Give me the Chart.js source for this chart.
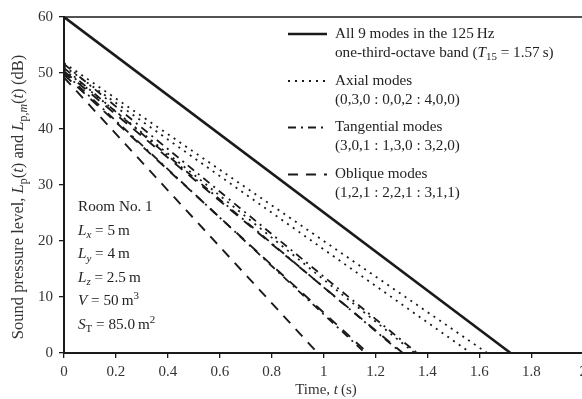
<!DOCTYPE html>
<html>
<head>
<meta charset="utf-8">
<script src="https://cdn.jsdelivr.net/npm/chart.js@4/dist/chart.umd.min.js"></script>
<style>
html,body{margin:0;padding:0;background:#fff;overflow:hidden;}
#wrap{width:582px;height:399px;overflow:hidden;position:relative;}
canvas{position:absolute;left:0;top:0;}
</style>
</head>
<body>
<div id="wrap"><canvas id="c" width="592" height="399"></canvas></div>
<script>
// ---- data ----
const xTicks = [0, 0.2, 0.4, 0.6, 0.8, 1, 1.2, 1.4, 1.6, 1.8, 2];
const yTicks = [0, 10, 20, 30, 40, 50, 60];
// level at t = 0 (dB) and time at which the line reaches 0 dB (s)
const allStart = [60.0];
const allEnd = [1.72];
const axialStart = [51.8, 51.2, 50.6];
const axialEnd = [1.63, 1.567, 1.35];
const tangStart = [51.6, 50.9, 50.1];
const tangEnd = [1.36, 1.30, 1.16];
const obliqueStart = [50.3, 49.7, 49.2];
const obliqueEnd = [1.305, 1.17, 0.977];

const FONT = '"Liberation Serif", "Times New Roman", serif';
const INK = '#1a1a1a';
const TXT = '#333';

const styles = {
  all: {w: 2.6, dash: []},
  axial: {w: 1.8, dash: [2, 5]},
  tang: {w: 1.8, dash: [8, 5, 2, 5]},
  oblique: {w: 1.9, dash: [10, 8]}
};

function lineSet(starts, ends, st) {
  return starts.map((s, i) => ({
    data: [{x: 0, y: s}, {x: ends[i], y: 0}],
    borderColor: INK, borderWidth: st.w, borderDash: st.dash,
    pointRadius: 0, fill: false, tension: 0
  }));
}
const datasets = [].concat(
  lineSet(obliqueStart, obliqueEnd, styles.oblique),
  lineSet(tangStart, tangEnd, styles.tang),
  lineSet(axialStart, axialEnd, styles.axial),
  lineSet(allStart, allEnd, styles.all)
);

// rich text: segments {t, i:italic, sub, sup}
function richWidth(ctx, segs, size) {
  let w = 0;
  for (const s of segs) {
    const sz = (s.sub || s.sup) ? size * 0.72 : size;
    ctx.font = (s.i ? 'italic ' : '') + sz + 'px ' + FONT;
    w += ctx.measureText(s.t).width;
  }
  return w;
}
function drawRich(ctx, x, y, segs, size) {
  ctx.textBaseline = 'middle';
  ctx.textAlign = 'left';
  for (const s of segs) {
    const sz = (s.sub || s.sup) ? size * 0.72 : size;
    ctx.font = (s.i ? 'italic ' : '') + sz + 'px ' + FONT;
    let dy = 0;
    if (s.sub) dy = size * 0.3;
    if (s.sup) dy = -size * 0.35;
    ctx.fillText(s.t, x, y + dy);
    x += ctx.measureText(s.t).width;
  }
  return x;
}

const legendItems = [
  {st: styles.all, y: 34, lines: [
    [{t: 'All 9 modes in the 125\u2009Hz'}],
    [{t: 'one-third-octave band ('}, {t: 'T', i: true}, {t: '15', sub: true}, {t: ' = 1.57\u2009s)'}]
  ]},
  {st: styles.axial, y: 81, lines: [
    [{t: 'Axial modes'}],
    [{t: '(0,3,0 : 0,0,2 : 4,0,0)'}]
  ]},
  {st: styles.tang, y: 127.5, lines: [
    [{t: 'Tangential modes'}],
    [{t: '(3,0,1 : 1,3,0 : 3,2,0)'}]
  ]},
  {st: styles.oblique, y: 174.5, lines: [
    [{t: 'Oblique modes'}],
    [{t: '(1,2,1 : 2,2,1 : 3,1,1)'}]
  ]}
];

const roomInfo = [
  [{t: 'Room No. 1'}],
  [{t: 'L', i: true}, {t: 'x', i: true, sub: true}, {t: ' = 5\u2009m'}],
  [{t: 'L', i: true}, {t: 'y', i: true, sub: true}, {t: ' = 4\u2009m'}],
  [{t: 'L', i: true}, {t: 'z', i: true, sub: true}, {t: ' = 2.5\u2009m'}],
  [{t: 'V', i: true}, {t: ' = 50\u2009m'}, {t: '3', sup: true}],
  [{t: 'S', i: true}, {t: 'T', sub: true}, {t: ' = 85.0\u2009m'}, {t: '2', sup: true}]
];

const yTitle = [
  {t: 'Sound pressure level, '}, {t: 'L', i: true}, {t: 'p', sub: true}, {t: '('}, {t: 't', i: true},
  {t: ') and '}, {t: 'L', i: true}, {t: 'p,', sub: true}, {t: 'm', i: true, sub: true}, {t: '('},
  {t: 't', i: true}, {t: ')\u2009(dB)'}
];
const xTitle = [{t: 'Time, '}, {t: 't', i: true}, {t: '\u2009(s)'}];

const decor = {
  id: 'decor',
  afterDraw(chart) {
    const ctx = chart.ctx;
    const a = chart.chartArea;
    ctx.save();
    // top frame line
    ctx.strokeStyle = INK;
    ctx.lineWidth = 1.6;
    ctx.beginPath();
    ctx.moveTo(a.left, a.top);
    ctx.lineTo(a.right + 10, a.top);
    ctx.stroke();

    ctx.fillStyle = '#222';
    // legend
    for (const it of legendItems) {
      ctx.strokeStyle = INK;
      ctx.lineWidth = it.st.w;
      ctx.setLineDash(it.st.dash);
      ctx.beginPath();
      ctx.moveTo(288, it.y);
      ctx.lineTo(327, it.y);
      ctx.stroke();
      ctx.setLineDash([]);
      drawRich(ctx, 335, it.y, it.lines[0], 15.2);
      drawRich(ctx, 335, it.y + 19, it.lines[1], 15.2);
    }
    // room info
    roomInfo.forEach((l, i) => drawRich(ctx, 78, 207 + i * 23.6, l, 15.2));

    // axis titles
    ctx.fillStyle = TXT;
    const xw = richWidth(ctx, xTitle, 15);
    drawRich(ctx, 326 - xw / 2, 390, xTitle, 15);
    ctx.save();
    ctx.translate(19, 197);
    ctx.rotate(-Math.PI / 2);
    const yw = richWidth(ctx, yTitle, 16.5);
    drawRich(ctx, -yw / 2, 0, yTitle, 16.5);
    ctx.restore();
    ctx.restore();
  }
};

new Chart(document.getElementById('c'), {
  type: 'line',
  data: {datasets},
  options: {
    responsive: false,
    devicePixelRatio: 1,
    animation: false,
    events: [],
    layout: {padding: {left: 10, top: 17, right: 0, bottom: 0}},
    plugins: {legend: {display: false}, tooltip: {enabled: false}},
    scales: {
      x: {
        type: 'linear', min: 0, max: 2,
        afterBuildTicks: s => { s.ticks = xTicks.map(v => ({value: v})); },
        afterFit: s => { s.height = 46; },
        ticks: {
          callback: v => String(Number(v.toFixed(1))),
          font: {family: FONT, size: 15}, color: TXT, padding: 5, maxRotation: 0
        },
        grid: {display: true, drawOnChartArea: false, drawTicks: true, tickLength: 5, color: INK, lineWidth: 1.3},
        border: {display: true, color: INK, width: 2}
      },
      y: {
        min: 0, max: 60,
        afterBuildTicks: s => { s.ticks = yTicks.map(v => ({value: v})); },
        afterFit: s => { s.width = 54; },
        ticks: {font: {family: FONT, size: 15}, color: TXT, padding: 6},
        grid: {display: true, drawOnChartArea: false, drawTicks: true, tickLength: 5, color: INK, lineWidth: 1.3},
        border: {display: true, color: INK, width: 2}
      }
    }
  },
  plugins: [decor]
});
</script>
</body>
</html>
